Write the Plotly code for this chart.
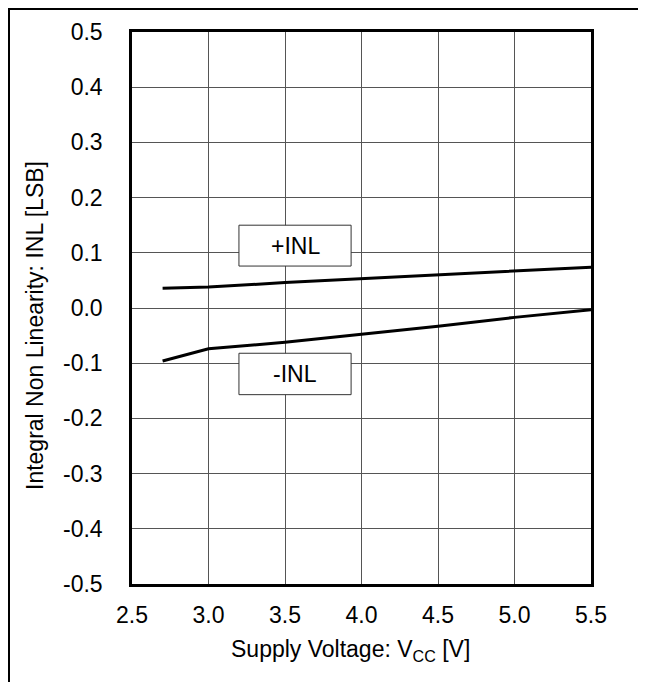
import plotly.graph_objects as go

vcc = [2.7, 3.0, 3.5, 4.0, 4.5, 5.0, 5.5]
inl_pos = [0.036, 0.038, 0.046, 0.053, 0.060, 0.067, 0.074]
inl_neg = [-0.096, -0.074, -0.062, -0.048, -0.033, -0.017, -0.003]

x_ticks = [2.5, 3.0, 3.5, 4.0, 4.5, 5.0, 5.5]
y_ticks = [0.5, 0.4, 0.3, 0.2, 0.1, 0.0, -0.1, -0.2, -0.3, -0.4, -0.5]

x_title = "Supply Voltage: V<sub>CC</sub> [V]"
y_title = "Integral Non Linearity: INL [LSB]"

FONT = "Liberation Sans, Arial, sans-serif"
FS = 23

fig = go.Figure()
fig.add_trace(go.Scatter(x=vcc, y=inl_pos, mode="lines", name="+INL",
                         line=dict(color="black", width=3)))
fig.add_trace(go.Scatter(x=vcc, y=inl_neg, mode="lines", name="-INL",
                         line=dict(color="black", width=3)))

W, H = 646, 682
L, R, T, B = 124, 583, 24, 576
pw, ph = R - L, B - T


def px(x):
    return (x - L) / pw


def py(y):
    return (B - y) / ph


# outer border (right/bottom edges fall outside the page)
fig.add_shape(type="rect", xref="paper", yref="paper",
              x0=px(1), x1=px(700), y0=py(760), y1=py(1),
              line=dict(color="black", width=2), layer="below")

# label boxes
for label, y0, y1 in [("+INL", 0.076, 0.150), ("-INL", -0.157, -0.082)]:
    fig.add_shape(type="rect", xref="x", yref="y", x0=3.199, x1=3.932, y0=y0, y1=y1,
                  line=dict(color="#333333", width=1), fillcolor="white", layer="above")
    fig.add_annotation(x=3.5655, y=(y0 + y1) / 2, xref="x", yref="y", text=label,
                       showarrow=False, font=dict(family=FONT, size=FS, color="black"))

# axis titles
fig.add_annotation(xref="paper", yref="paper", x=px(342), y=py(642), text=x_title,
                   showarrow=False, xanchor="center", yanchor="middle",
                   font=dict(family=FONT, size=FS, color="black"))
fig.add_annotation(xref="paper", yref="paper", x=px(27), y=py(318), text=y_title,
                   showarrow=False, xanchor="center", yanchor="middle", textangle=-90,
                   font=dict(family=FONT, size=FS, color="black"))

fig.update_layout(
    width=W, height=H,
    margin=dict(l=L, r=W - R, t=T, b=H - B),
    plot_bgcolor="white", paper_bgcolor="white",
    showlegend=False,
    font=dict(family=FONT, size=FS, color="black"),
)
fig.update_xaxes(range=[2.5, 5.5], tickvals=x_ticks, ticktext=[f"{v:.1f}" for v in x_ticks],
                 showgrid=True, gridcolor="#555555", gridwidth=1,
                 showline=True, linecolor="black", linewidth=2.5, mirror=True,
                 ticks="outside", ticklen=9, tickcolor="rgba(0,0,0,0)",
                 zeroline=False, tickfont=dict(family=FONT, size=FS))
fig.update_yaxes(range=[-0.5, 0.5], tickvals=y_ticks, ticktext=[f"{v:.1f}" for v in y_ticks],
                 showgrid=True, gridcolor="#555555", gridwidth=1,
                 showline=True, linecolor="black", linewidth=2.5, mirror=True,
                 ticks="outside", ticklen=22, tickcolor="rgba(0,0,0,0)",
                 zeroline=False, tickfont=dict(family=FONT, size=FS))

fig.write_html("out.html")
